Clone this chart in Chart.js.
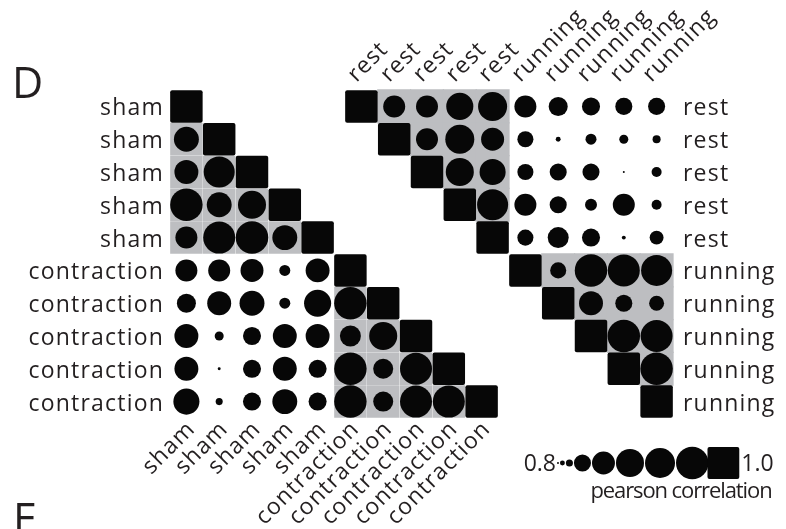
<!DOCTYPE html>
<html>
<head>
<meta charset="utf-8">
<script src="https://cdn.jsdelivr.net/npm/chart.js@4/dist/chart.umd.min.js"></script>
<style>
  html, body { margin: 0; padding: 0; background: #ffffff; }
  canvas { display: block; }
</style>
</head>
<body>
<canvas id="corr" width="786" height="529"></canvas>
<script>
// ---- data -------------------------------------------------------------
const leftLabels  = ['sham', 'sham', 'sham', 'sham', 'sham',
                     'contraction', 'contraction', 'contraction', 'contraction', 'contraction'];
const rightLabels = ['rest', 'rest', 'rest', 'rest', 'rest',
                     'running', 'running', 'running', 'running', 'running'];

// lower triangle: row r holds correlations with columns 0 .. r-1
const leftCorr = [
  [],
  [0.952],
  [0.946, 0.989],
  [0.998, 0.952, 0.971],
  [0.934, 0.995, 0.998, 0.952],
  [0.934, 0.934, 0.940, 0.867, 0.946],
  [0.916, 0.946, 0.952, 0.867, 0.965, 0.998],
  [0.946, 0.855, 0.910, 0.946, 0.946, 0.928, 0.971],
  [0.946, 0.818, 0.910, 0.946, 0.910, 0.998, 0.922, 0.995],
  [0.959, 0.843, 0.910, 0.952, 0.910, 0.998, 0.922, 0.995, 0.995]
];

// upper triangle: row r holds correlations with columns r+1 .. 9
const rightCorr = [
  [0.934, 0.934, 0.965, 0.977, 0.934, 0.916, 0.910, 0.904, 0.904],
  [0.934, 0.977, 0.940, 0.898, 0.830, 0.867, 0.855, 0.849],
  [0.971, 0.959, 0.898, 0.904, 0.904, 0.812, 0.861],
  [0.989, 0.934, 0.904, 0.873, 0.934, 0.861],
  [0.898, 0.928, 0.910, 0.824, 0.885],
  [0.898, 0.998, 0.995, 0.989],
  [0.946, 0.904, 0.891],
  [0.998, 0.995],
  [0.998],
  []
];

// size key
const legendSteps = [0.812, 0.830, 0.843, 0.904, 0.940, 0.971, 0.983, 0.998];
const corrMin = 0.8;
const corrMax = 1.0;
const legendTicks = ['0.8', '1.0'];
const legendTitle = 'pearson correlation';

// ---- layout / style ---------------------------------------------------
const N = leftLabels.length;
const rightShift = 5.335;           // horizontal shift of the second matrix, in cells
const textColor = '#231f20';
const markColor = '#070707';
const blockGrey = '#bdbec1';
const fontFamily = '"Open Sans", "Noto Sans", sans-serif';
const fontSize = 23;

const cellPx = chart => {
  const s = chart.scales.x;
  return Math.abs(s.getPixelForValue(1) - s.getPixelForValue(0));
};
const radiusFor = (v, cell) => Math.max(0.7, cell * (v - corrMin) / (corrMax - corrMin) / 2);

// ---- build datasets ---------------------------------------------------
const circles = [];
leftCorr.forEach((row, r) => row.forEach((v, c) => circles.push({ x: c + 0.5, y: r + 0.5, v })));
rightCorr.forEach((row, r) => row.forEach((v, k) => circles.push({ x: rightShift + r + 1 + k + 0.5, y: r + 0.5, v })));

const diagonal = [];
for (let i = 0; i < N; i++) {
  diagonal.push({ x: i + 0.5, y: [i + 0.015, i + 0.985] });
  diagonal.push({ x: rightShift + i + 0.5, y: [i + 0.015, i + 0.985] });
}

// within-group cells get a grey backdrop
const greyLeft = [];
const greyRight = [];
for (let r = 0; r < N; r++) {
  for (let c = 0; c < N; c++) {
    if (c < r && leftLabels[r] === leftLabels[c]) {
      greyLeft.push({ x: c + 0.5, y: [r + 0.015, r + 0.985] });
    }
    if (c > r && rightLabels[r] === rightLabels[c]) {
      greyRight.push({ x: rightShift + c + 0.5, y: [r - 0.01, r + 1.01] });
    }
  }
}

// ---- text + size key --------------------------------------------------
const annotations = {
  id: 'matrixText',
  afterDraw(chart) {
    const { ctx, chartArea, scales: { x, y } } = chart;
    const cell = cellPx(chart);
    ctx.save();
    ctx.fillStyle = textColor;
    ctx.font = `${fontSize}px ${fontFamily}`;
    ctx.letterSpacing = '1.2px';
    ctx.textBaseline = 'alphabetic';

    // row labels
    leftLabels.forEach((lab, r) => {
      ctx.textAlign = 'right';
      ctx.fillText(lab, x.getPixelForValue(0) - 6, y.getPixelForValue(r + 0.5) + 9);
    });
    rightLabels.forEach((lab, r) => {
      ctx.textAlign = 'left';
      ctx.fillText(lab, x.getPixelForValue(rightShift + N) + 10, y.getPixelForValue(r + 0.5) + 9);
    });

    // column labels, slanted
    leftLabels.forEach((lab, c) => {
      ctx.save();
      ctx.translate(x.getPixelForValue(c + 0.5) + 10, y.getPixelForValue(N) + 12);
      ctx.rotate(-Math.PI / 4);
      ctx.textAlign = 'right';
      ctx.fillText(lab, 0, 0);
      ctx.restore();
    });
    rightLabels.forEach((lab, c) => {
      ctx.save();
      ctx.translate(x.getPixelForValue(rightShift + c + 0.5) - 5, y.getPixelForValue(0) - 7);
      ctx.rotate(-Math.PI / 4);
      ctx.textAlign = 'left';
      ctx.fillText(lab, 0, 0);
      ctx.restore();
    });

    // panel letters
    ctx.letterSpacing = '0px';
    ctx.font = `43px ${fontFamily}`;
    ctx.textAlign = 'left';
    ctx.fillText('D', 12, 98);
    ctx.fillText('E', 13, 534);

    // size key
    const ky = chartArea.bottom + 45;
    let edge = chartArea.right - 116;
    ctx.font = `${fontSize}px ${fontFamily}`;
    ctx.textBaseline = 'middle';
    ctx.textAlign = 'right';
    ctx.fillText(legendTicks[0], edge - 1, ky + 1);
    ctx.fillStyle = markColor;
    legendSteps.forEach(v => {
      const rad = radiusFor(v, cell);
      ctx.beginPath();
      ctx.arc(edge + rad, ky, rad, 0, Math.PI * 2);
      ctx.fill();
      edge += 2 * rad + 1;
    });
    const side = cell - 1;
    const sx = edge - 2;
    ctx.beginPath();
    ctx.roundRect(sx, ky - side / 2, side, side, 2);
    ctx.fill();
    ctx.fillStyle = textColor;
    ctx.textAlign = 'left';
    ctx.fillText(legendTicks[1], sx + side + 2, ky + 1);
    ctx.font = `22px ${fontFamily}`;
    ctx.letterSpacing = '-1.1px';
    ctx.textAlign = 'center';
    ctx.fillText(legendTitle, chartArea.right + 8, ky + 29);
    ctx.restore();
  }
};

// ---- chart ------------------------------------------------------------
new Chart(document.getElementById('corr'), {
  type: 'scatter',
  data: {
    datasets: [
      {
        type: 'scatter',
        data: circles,
        order: 1,
        backgroundColor: markColor,
        borderWidth: 0,
        pointStyle: 'circle',
        pointRadius: ctx => (ctx.raw ? radiusFor(ctx.raw.v, cellPx(ctx.chart)) : 0),
        pointHoverRadius: ctx => (ctx.raw ? radiusFor(ctx.raw.v, cellPx(ctx.chart)) : 0),
        clip: false
      },
      {
        type: 'bar',
        data: diagonal,
        order: 2,
        grouped: false,
        backgroundColor: markColor,
        borderWidth: 0,
        borderRadius: 2,
        borderSkipped: false,
        barThickness: ctx => cellPx(ctx.chart) - 1,
        clip: false
      },
      {
        type: 'bar',
        data: greyLeft,
        order: 3,
        grouped: false,
        backgroundColor: blockGrey,
        borderWidth: 0,
        borderSkipped: false,
        barThickness: ctx => cellPx(ctx.chart) - 1,
        clip: false
      },
      {
        type: 'bar',
        data: greyRight,
        order: 3,
        grouped: false,
        backgroundColor: blockGrey,
        borderWidth: 0,
        borderSkipped: false,
        barThickness: ctx => cellPx(ctx.chart) + 0.6,
        clip: false
      }
    ]
  },
  options: {
    responsive: false,
    devicePixelRatio: 1,
    animation: false,
    events: [],
    layout: { padding: { left: 170, top: 90, right: 113, bottom: 111 } },
    scales: {
      x: { type: 'linear', min: 0, max: rightShift + N, offset: false, display: false },
      y: { type: 'linear', min: 0, max: N, reverse: true, offset: false, display: false }
    },
    plugins: { legend: { display: false }, tooltip: { enabled: false } }
  },
  plugins: [annotations]
});
</script>
</body>
</html>
